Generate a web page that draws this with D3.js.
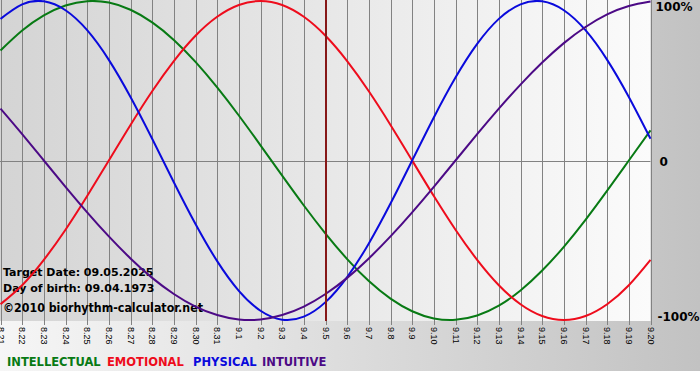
<!DOCTYPE html>
<html>
<head>
<meta charset="utf-8">
<script src="https://cdn.jsdelivr.net/npm/d3@7"></script>
<style>
  body { margin: 0; background: #ffffff; }
  svg { display: block; }
</style>
</head>
<body>
<div id="chart"></div>
<script>
// days shown on the x axis (month.day)
var days = ['8.21','8.22','8.23','8.24','8.25','8.26','8.27','8.28','8.29','8.30','8.31',
            '9.1','9.2','9.3','9.4','9.5','9.6','9.7','9.8','9.9','9.10',
            '9.11','9.12','9.13','9.14','9.15','9.16','9.17','9.18','9.19','9.20'];
var targetDay = '9.5';

// values, -1 .. 1 for each day
var intellectual = [0.690,0.815,0.910,0.972,0.999,0.990,0.945,0.866,0.756,0.618,0.458,0.282,0.095,-0.095,-0.282,-0.458,
                    -0.618,-0.756,-0.866,-0.945,-0.990,-0.999,-0.972,-0.910,-0.815,-0.690,-0.541,-0.372,-0.189,0.000,0.189];
var emotional = [-0.901,-0.782,-0.623,-0.434,-0.223,0.000,0.223,0.434,0.623,0.782,0.901,0.975,1.000,0.975,0.901,0.782,
                 0.623,0.434,0.223,0.000,-0.223,-0.434,-0.623,-0.782,-0.901,-0.975,-1.000,-0.975,-0.901,-0.782,-0.623];
var physical = [0.888,0.979,0.998,0.942,0.817,0.631,0.398,0.136,-0.136,-0.398,-0.631,-0.817,-0.942,-0.998,-0.979,-0.888,
                -0.731,-0.520,-0.270,0.000,0.270,0.520,0.731,0.888,0.979,0.998,0.942,0.817,0.631,0.398,0.136];
var intuitive = [0.325,0.165,0.000,-0.165,-0.325,-0.476,-0.614,-0.736,-0.837,-0.916,-0.969,-0.997,-0.997,-0.969,-0.916,-0.837,
                 -0.736,-0.614,-0.476,-0.325,-0.165,0.000,0.165,0.325,0.476,0.614,0.736,0.837,0.916,0.969,0.997];

var seriesNames = ['INTELLECTUAL','EMOTIONAL','PHYSICAL','INTUITIVE'];
var seriesColors = ['#087a14','#ee0c1c','#0a0adc','#4c0a86'];
var yTickValues = [1, 0, -1];
var yTickLabels = ['100%', '0', '-100%'];
var infoLines = ['Target Date: 09.05.2025', 'Day of birth: 09.04.1973'];
var copyright = '\u00a92010 biorhythm-calculator.net';

var svgWidth = 700, svgHeight = 380;
var svg = d3.select('#chart').append('svg')
    .attr('width', svgWidth)
    .attr('height', svgHeight);

var defs = svg.append('defs');
var outerGrad = defs.append('linearGradient').attr('id', 'outerGrad');
outerGrad.append('stop').attr('offset', '0%').attr('stop-color', '#f6f6f6');
outerGrad.append('stop').attr('offset', '100%').attr('stop-color', '#c2c2c2');
var plotGrad = defs.append('linearGradient').attr('id', 'plotGrad');
plotGrad.append('stop').attr('offset', '0%').attr('stop-color', '#d4d4d4');
plotGrad.append('stop').attr('offset', '100%').attr('stop-color', '#fbfbfb');

// outer panel
svg.append('rect')
    .attr('x', 0).attr('y', 0)
    .attr('width', svgWidth).attr('height', 371)
    .attr('fill', 'url(#outerGrad)');

// core plot area
var plot = {left: 0.5, right: 650.5, top: 1, bottom: 320};

var xScale = d3.scalePoint()
    .domain(days)
    .range([plot.left, plot.right]);
var yScale = d3.scaleLinear()
    .domain([-1, 1])
    .range([plot.bottom, plot.top]);

svg.append('rect')
    .attr('x', 0).attr('y', 0)
    .attr('width', plot.right).attr('height', plot.bottom + 1)
    .attr('fill', 'url(#plotGrad)');

// x axis: vertical day lines that run down past the plot as ticks
var gx = svg.append('g')
    .attr('transform', 'translate(0,' + (plot.bottom + 1) + ')');
var xAxis = d3.axisBottom(xScale)
    .tickSize(4)
    .tickPadding(0);
xAxis(gx);
gx.select('.domain').remove();
gx.selectAll('line').attr('stroke', '#828282');
gx.selectAll('.tick').attr('transform', function (d) {
    return 'translate(' + (Math.round(xScale(d)) + 0.5) + ',0)';
});
gx.selectAll('text')
    .attr('transform', 'rotate(90)')
    .attr('x', 6)
    .attr('y', 0)
    .attr('dy', '0.36em')
    .attr('text-anchor', 'start')
    .style('font-family', 'Liberation Sans, Arial, sans-serif')
    .style('font-size', '9px')
    .style('fill', '#000');

svg.append('g').selectAll('line')
    .data(days)
    .enter()
    .append('line')
    .attr('x1', function (d) { return Math.round(xScale(d)) + 0.5; })
    .attr('x2', function (d) { return Math.round(xScale(d)) + 0.5; })
    .attr('y1', 0)
    .attr('y2', plot.bottom + 1)
    .attr('stroke', '#828282')
    .attr('stroke-width', 1);

// zero line
svg.append('line')
    .attr('x1', 0).attr('x2', plot.right)
    .attr('y1', Math.round(yScale(0)) + 0.5)
    .attr('y2', Math.round(yScale(0)) + 0.5)
    .attr('stroke', '#828282');

// y labels on the right
var gy = svg.append('g')
    .attr('transform', 'translate(' + (plot.right + 5) + ',0)');
var yAxis = d3.axisRight(yScale)
    .tickValues(yTickValues)
    .tickFormat(function (d, i) { return yTickLabels[i]; })
    .tickSize(0)
    .tickPadding(0);
yAxis(gy);
gy.select('.domain').remove();
gy.selectAll('text')
    .attr('x', function (d) { return d === 0 ? 4 : (d > 0 ? 0 : 2); })
    .attr('dy', function (d) { return d > 0 ? '0.75em' : (d < 0 ? '0.05em' : '0.45em'); })
    .style('font-family', 'DejaVu Sans, Verdana, sans-serif')
    .style('font-size', '12px')
    .style('font-weight', 'bold')
    .style('fill', '#000');

// info text
svg.append('g').selectAll('text')
    .data(infoLines)
    .enter()
    .append('text')
    .attr('x', 3)
    .attr('y', function (d, i) { return 276 + i * 16; })
    .text(function (d) { return d; })
    .style('font-family', 'DejaVu Sans, Verdana, sans-serif')
    .style('font-size', '11px')
    .style('font-weight', 'bold')
    .style('fill', '#000');
svg.append('text')
    .attr('x', 3)
    .attr('y', 312)
    .attr('textLength', 200)
    .attr('lengthAdjust', 'spacingAndGlyphs')
    .text(copyright)
    .style('font-family', 'DejaVu Sans, Verdana, sans-serif')
    .style('font-size', '13px')
    .style('font-weight', 'bold')
    .style('fill', '#000');

// curves
var allSeries = [intellectual, emotional, physical, intuitive];
var line = d3.line()
    .x(function (d, i) { return xScale(days[i]); })
    .y(function (d) { return yScale(d); })
    .curve(d3.curveNatural);

svg.append('g').selectAll('path')
    .data(allSeries)
    .enter()
    .append('path')
    .attr('d', function (d) { return line(d); })
    .style('fill', 'none')
    .style('stroke', function (d, i) { return seriesColors[i]; })
    .style('stroke-width', 2);

// target day marker
svg.append('line')
    .attr('x1', Math.round(xScale(targetDay)))
    .attr('x2', Math.round(xScale(targetDay)))
    .attr('y1', 0)
    .attr('y2', plot.bottom + 1)
    .attr('stroke', '#861818')
    .attr('stroke-width', 2);

// legend
var legendX = [7, 107, 193, 262];
svg.append('g').selectAll('text')
    .data(seriesNames)
    .enter()
    .append('text')
    .attr('x', function (d, i) { return legendX[i]; })
    .attr('y', 366)
    .text(function (d) { return d; })
    .style('font-family', 'DejaVu Sans, Verdana, sans-serif')
    .style('font-size', '11.5px')
    .style('font-weight', 'bold')
    .style('fill', function (d, i) { return seriesColors[i]; });
</script>
</body>
</html>
